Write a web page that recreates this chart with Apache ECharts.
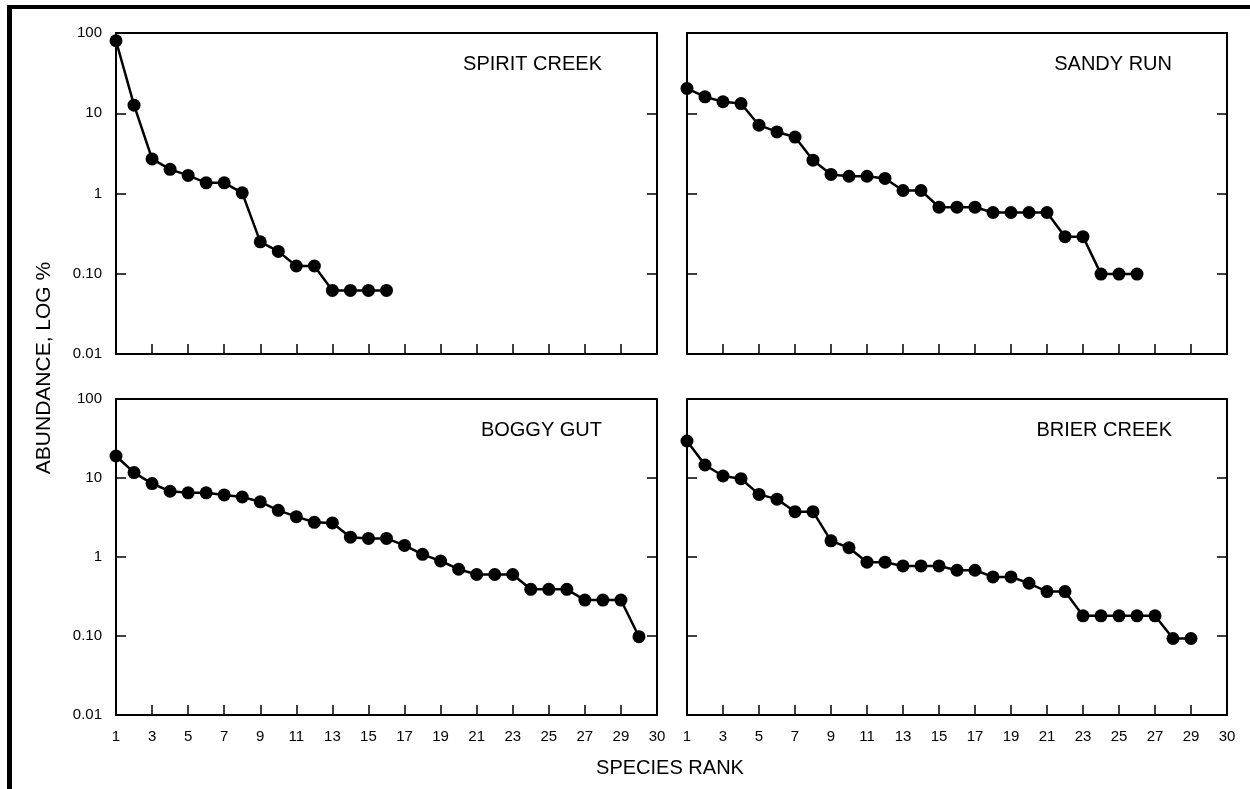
<!DOCTYPE html>
<html>
<head>
<meta charset="utf-8">
<script src="https://cdn.jsdelivr.net/npm/echarts@6/dist/echarts.min.js"></script>
<style>
  html, body { margin: 0; padding: 0; background: #fff; }
  #chart { width: 1250px; height: 789px; }
</style>
</head>
<body>
<div id="chart"></div>
<script>
// ---- data (abundance %, by species rank) ----
const panelNames = ['SPIRIT CREEK', 'SANDY RUN', 'BOGGY GUT', 'BRIER CREEK'];
const spiritCreek = [80, 12.6, 2.7, 2.0, 1.68, 1.36, 1.36, 1.02, 0.25, 0.19, 0.125, 0.125, 0.062, 0.062, 0.062, 0.062];
const sandyRun = [20.4, 16.0, 13.9, 13.2, 7.1, 5.85, 5.05, 2.6, 1.73, 1.64, 1.64, 1.54, 1.09, 1.09, 0.675, 0.675, 0.675, 0.58, 0.58, 0.58, 0.58, 0.29, 0.29, 0.099, 0.099, 0.099];
const boggyGut = [19.0, 11.7, 8.5, 6.8, 6.5, 6.5, 6.1, 5.75, 5.0, 3.9, 3.24, 2.75, 2.7, 1.78, 1.72, 1.72, 1.4, 1.08, 0.89, 0.7, 0.6, 0.6, 0.6, 0.39, 0.39, 0.39, 0.285, 0.285, 0.285, 0.098];
const brierCreek = [29.4, 14.6, 10.6, 9.8, 6.2, 5.4, 3.75, 3.75, 1.6, 1.31, 0.86, 0.86, 0.77, 0.77, 0.77, 0.68, 0.68, 0.56, 0.56, 0.465, 0.365, 0.365, 0.18, 0.18, 0.18, 0.18, 0.18, 0.093, 0.093];

// ---- axis ticks / labels ----
const xLabelValues = [1, 3, 5, 7, 9, 11, 13, 15, 17, 19, 21, 23, 25, 27, 29, 31];
const xLabelTexts  = ['1', '3', '5', '7', '9', '11', '13', '15', '17', '19', '21', '23', '25', '27', '29', '30'];
const xTickValues  = [3, 5, 7, 9, 11, 13, 15, 17, 19, 21, 23, 25, 27, 29];
const yTickValues  = [0.01, 0.1, 1, 10, 100];
const yTickTexts   = ['0.01', '0.10', '1', '10', '100'];

const seriesData = [spiritCreek, sandyRun, boggyGut, brierCreek];
const FONT = '"Liberation Sans", Arial, Helvetica, sans-serif';

const grids = [
  { left: 116, top: 33, width: 541, height: 321 },
  { left: 687, top: 33, width: 540, height: 321 },
  { left: 116, top: 399, width: 541, height: 316 },
  { left: 687, top: 399, width: 540, height: 316 }
];

function yLabel(v) {
  for (let i = 0; i < yTickValues.length; i++) {
    if (Math.abs(Math.log10(v) - Math.log10(yTickValues[i])) < 1e-6) return yTickTexts[i];
  }
  return '';
}
function xLabel(v) {
  const i = xLabelValues.indexOf(Math.round(v));
  return i >= 0 ? xLabelTexts[i] : '';
}

const xAxes = [], yAxes = [], series = [], graphics = [];
grids.forEach((g, i) => {
  const showX = i >= 2, showY = (i % 2) === 0;
  xAxes.push({
    type: 'value', gridIndex: i, min: 1, max: 31, position: 'bottom',
    splitLine: { show: false },
    axisLine: { show: true, lineStyle: { color: '#000', width: 2 } },
    axisTick: { show: true, inside: true, length: 10, customValues: xTickValues, lineStyle: { color: '#000', width: 1.5 } },
    axisLabel: { show: showX, customValues: xLabelValues, formatter: xLabel, margin: 14,
      color: '#000', fontSize: 15, fontFamily: FONT }
  });
  xAxes.push({
    type: 'value', gridIndex: i, min: 1, max: 31, position: 'top',
    splitLine: { show: false },
    axisLine: { show: true, lineStyle: { color: '#000', width: 2 } },
    axisTick: { show: false }, axisLabel: { show: false }
  });
  const yBase = {
    type: 'log', logBase: 10, gridIndex: i, min: 0.01, max: 100, splitNumber: 4,
    splitLine: { show: false },
    axisLine: { show: true, lineStyle: { color: '#000', width: 2 } },
    axisTick: { show: true, inside: true, length: 10, lineStyle: { color: '#000', width: 1.5 } }
  };
  yAxes.push(Object.assign({}, yBase, {
    position: 'left',
    axisLabel: { show: showY, formatter: yLabel, margin: 14, color: '#000', fontSize: 15, fontFamily: FONT }
  }));
  yAxes.push(Object.assign({}, yBase, { position: 'right', axisLabel: { show: false } }));

  series.push({
    type: 'line', xAxisIndex: i * 2, yAxisIndex: i * 2,
    data: seriesData[i].map((v, k) => [k + 1, v]),
    symbol: 'circle', symbolSize: 13,
    itemStyle: { color: '#000' },
    lineStyle: { color: '#000', width: 2.5 },
    animation: false, silent: true
  });

  graphics.push({
    type: 'text',
    x: g.left + g.width - 55, y: g.top + 31,
    style: { text: panelNames[i], fill: '#000', font: '20px ' + FONT,
      textAlign: 'right', textVerticalAlign: 'middle', align: 'right', verticalAlign: 'middle' }
  });
});

// outer frame (top and left edge of the scanned page)
graphics.push({ type: 'rect', shape: { x: 7, y: 5, width: 1243, height: 4 }, style: { fill: '#000' } });
graphics.push({ type: 'rect', shape: { x: 7, y: 5, width: 5, height: 784 }, style: { fill: '#000' } });
// axis titles
graphics.push({
  type: 'text', x: 44, y: 368, rotation: Math.PI / 2,
  style: { text: 'ABUNDANCE, LOG %', fill: '#000', font: '21px ' + FONT,
    textAlign: 'center', textVerticalAlign: 'middle', align: 'center', verticalAlign: 'middle' }
});
graphics.push({
  type: 'text', x: 670, y: 768,
  style: { text: 'SPECIES RANK', fill: '#000', font: '20px ' + FONT,
    textAlign: 'center', textVerticalAlign: 'middle', align: 'center', verticalAlign: 'middle' }
});

const chart = echarts.init(document.getElementById('chart'), null, { renderer: 'canvas' });
chart.setOption({
  animation: false,
  backgroundColor: '#fff',
  grid: grids.map(g => Object.assign({ containLabel: false }, g)),
  xAxis: xAxes,
  yAxis: yAxes,
  series: series,
  graphic: graphics
});
</script>
</body>
</html>
